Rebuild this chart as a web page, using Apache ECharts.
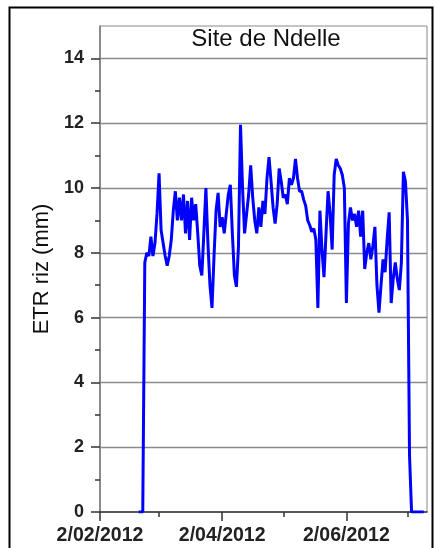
<!DOCTYPE html>
<html><head><meta charset="utf-8">
<script src="https://cdn.jsdelivr.net/npm/echarts@6/dist/echarts.min.js"></script>
<style>html,body{margin:0;padding:0;background:#fff}#c{width:436px;height:548px}</style>
</head><body><div id="c"></div>
<script>
const titleText = 'Site de Ndelle';
const yName = 'ETR riz (mm)';
const seriesStart = '2012-02-21';
const etr = [
  0, 0, 0,
  7.7, 8.0, 7.9, 8.5, 7.9, 8.3, 9.2, 10.45,
  8.7, 8.3, 7.9, 7.6, 7.9, 8.4, 9.3, 9.9, 9.0, 9.7,
  9.0, 9.8, 8.6, 9.6, 8.4, 9.7, 9.0, 9.5, 8.6, 7.6,
  7.3, 8.6, 10.0, 8.3, 7.0, 6.3, 7.9, 9.3, 9.85, 8.8,
  9.1, 8.6, 9.2, 9.8, 10.1, 8.6, 7.3, 6.95, 8.2, 11.95,
  10.0, 8.6, 9.2, 9.8, 10.7, 9.7, 9.0, 8.6, 9.4, 8.8,
  9.6, 9.2, 10.3, 10.95, 10.2, 9.4, 8.9, 9.5, 10.6, 10.2,
  9.7, 9.8, 9.5, 10.3, 10.1, 10.3, 10.9, 10.3, 9.9, 9.9,
  9.65, 9.45, 9.0, 8.85, 8.65, 8.75, 8.4, 6.3, 9.3, 8.1,
  7.25, 8.6, 9.9, 9.2, 8.1, 10.4, 10.9, 10.7, 10.6, 10.4,
  10.0, 6.45, 8.9, 9.4, 9.0, 9.2, 8.8, 9.3, 8.5, 9.3,
  7.5, 8.0, 8.3, 7.8, 8.2, 8.8, 7.0, 6.15, 7.0, 7.8,
  7.4, 8.4, 9.25, 6.45, 7.2, 7.7, 7.2, 6.85, 7.7, 10.5,
  10.2, 9.0, 1.75, 0, 0, 0, 0, 0, 0, 0
];
const xLabelDates = ['2012-02-02', '2012-04-02', '2012-06-02'];
const xMinorDates = ['2012-03-02', '2012-05-02', '2012-07-02'];
const xStart = '2012-02-02';
const xEnd = '2012-07-11T14:00:00';
const yMajor = [0, 2, 4, 6, 8, 10, 12, 14];
const yMinor = [1, 3, 5, 7, 9, 11, 13];
const yMax = 15;

const DAY = 86400000;
function ts(s) { return Date.parse((s.length > 10 ? s : s + 'T00:00:00') + 'Z'); }
const T0 = ts(xStart);
function dayOf(s) { return (ts(s) - T0) / DAY; }
const d0 = dayOf(seriesStart);
const data = etr.map((v, i) => [d0 + i, v]);
function fmt(v) {
  const d = new Date(T0 + Math.round(v) * DAY);
  return d.getUTCDate() + '/' + String(d.getUTCMonth() + 1).padStart(2, '0') + '/' + d.getUTCFullYear();
}

const chart = echarts.init(document.getElementById('c'), null, { renderer: 'canvas' });
chart.setOption({
  animation: false,
  backgroundColor: '#fff',
  title: {
    text: titleText, left: 266, top: 27, padding: 0, textAlign: 'center',
    textStyle: { fontFamily: 'Liberation Sans', fontSize: 24, fontWeight: 'normal', color: '#111' }
  },
  graphic: [{
    type: 'rect', left: 7, top: 5, shape: { width: 423, height: 570 },
    style: { fill: 'none', stroke: '#000', lineWidth: 2 }, silent: true, z: 100
  }],
  grid: { left: 100, right: 9, top: 26, bottom: 36, show: true, borderColor: '#8a8a8a', borderWidth: 1, backgroundColor: 'transparent' },
  xAxis: [{
    type: 'value', min: 0, max: dayOf(xEnd),
    axisLine: { show: true, lineStyle: { color: '#333', width: 1.5 } },
    axisTick: { show: true, customValues: xLabelDates.map(dayOf), length: 9, lineStyle: { color: '#333', width: 1.5 } },
    axisLabel: { customValues: xLabelDates.map(dayOf), formatter: fmt, margin: 14, fontFamily: 'Liberation Sans', fontWeight: 'bold', fontSize: 19.5, color: '#222', hideOverlap: false },
    splitLine: { show: false }
  }, {
    type: 'value', min: 0, max: dayOf(xEnd), position: 'bottom',
    axisLine: { show: false },
    axisTick: { show: true, customValues: xMinorDates.map(dayOf), length: 5, lineStyle: { color: '#333', width: 1.5 } },
    axisLabel: { show: false },
    splitLine: { show: false }
  }],
  yAxis: [{
    type: 'value', min: 0, max: yMax, interval: 1,
    name: yName, nameLocation: 'middle', nameGap: 46, nameRotate: 90,
    nameTextStyle: { fontFamily: 'Liberation Sans', fontSize: 22, color: '#111' },
    axisLine: { show: true, lineStyle: { color: '#777', width: 1.5 } },
    axisTick: { show: true, customValues: yMajor, length: 9, lineStyle: { color: '#333', width: 1.5 } },
    axisLabel: { customValues: yMajor, margin: 16, fontFamily: 'Liberation Sans', fontWeight: 'bold', fontSize: 18, color: '#222' },
    splitLine: { show: false }
  }, {
    type: 'value', min: 0, max: yMax, position: 'left',
    axisLine: { show: false },
    axisTick: { show: true, customValues: yMinor, length: 5, lineStyle: { color: '#333', width: 1.5 } },
    axisLabel: { show: false },
    splitLine: { show: false }
  }],
  series: [{
    type: 'line', data: data, xAxisIndex: 0, yAxisIndex: 0,
    showSymbol: false, symbol: 'none',
    lineStyle: { color: '#0000ff', width: 3 }, z: 5,
    markLine: {
      silent: true, symbol: 'none', label: { show: false }, animation: false,
      lineStyle: { color: '#8a8a8a', width: 1.3, type: 'solid' },
      data: yMajor.filter(v => v > 0).map(v => ({ yAxis: v }))
    }
  }]
});
</script></body></html>
